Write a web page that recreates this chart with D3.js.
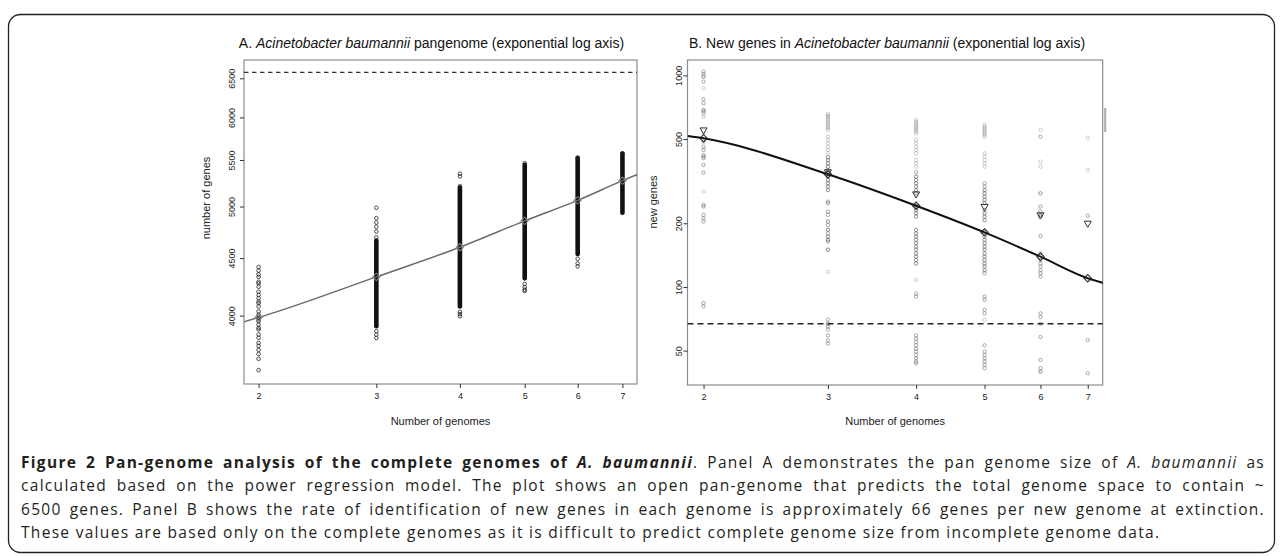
<!DOCTYPE html>
<html>
<head>
<meta charset="utf-8">
<script src="https://cdn.jsdelivr.net/npm/d3@7"></script>
<style>
body { margin: 0; background: #fff; }
svg { display: block; font-family: Arial, "Liberation Sans", Helvetica, sans-serif; }
.cap { font-family: "Open Sans", sans-serif; font-size: 15.5px; letter-spacing: 1.3px; fill: #231f20; }
</style>
</head>
<body>
<script>
// number of genomes sampled (x axis of both panels)
var genomes = [2, 3, 4, 5, 6, 7];

// Panel A: pan-genome size
var panTicks = [4000, 4500, 5000, 5500, 6000, 6500];
var panAsymptote = 6580;
var panFitN = [1.9, 2, 3, 4, 5, 6, 7, 7.4];
var panFitSize = [3950, 3985, 4330, 4601, 4856, 5064, 5272, 5345];
// runs of heavily overlapping points: [genomes, low, high]
var panRuns = [[3, 3914, 4664], [4, 4076, 5197], [5, 4317, 5447], [6, 4538, 5519], [7, 4938, 5574]];
// isolated points: [genomes, size]
var panSingles = [
  [2, 4419], [2, 4386], [2, 4352], [2, 4330], [2, 4287], [2, 4273], [2, 4244], [2, 4201],
  [2, 4173], [2, 4146], [2, 4117], [2, 4103], [2, 4076], [2, 4035], [2, 4008], [2, 3994],
  [2, 3981], [2, 3968], [2, 3954], [2, 3927], [2, 3901], [2, 3888], [2, 3848], [2, 3823],
  [2, 3783], [2, 3760], [2, 3730], [2, 3698], [2, 3662], [2, 3578],
  [3, 4988], [3, 4883], [3, 4839], [3, 4798], [3, 4752], [3, 4695], [3, 3875], [3, 3848], [3, 3821],
  [4, 5348], [4, 5318], [4, 5212], [4, 4030], [4, 4012], [4, 3995],
  [5, 5463], [5, 4268], [5, 4240], [5, 4218], [5, 4207],
  [6, 5529], [6, 4494], [6, 4451], [6, 4424],
  [7, 5574]
];

// Panel B: new genes per added genome
var newTicks = [50, 100, 200, 500, 1000];
var newExtinction = 67;
var newFitN = [1.9, 2, 3, 4, 5, 6, 7, 7.4];
var newFitGenes = [517, 504, 341, 242, 181, 139, 110, 104];
var newMeans = [552, 350, 275, 240, 219, 200];
// [genomes, new genes, number of overlapping points]
var newPoints = [
  [2, 1041, 2], [2, 1012, 2], [2, 985, 3], [2, 933, 2], [2, 869, 1], [2, 771, 2], [2, 738, 2],
  [2, 686, 3], [2, 674, 2], [2, 657, 1], [2, 638, 1], [2, 530, 1], [2, 486, 2], [2, 460, 2],
  [2, 444, 2], [2, 420, 2], [2, 413, 2], [2, 406, 2], [2, 377, 2], [2, 347, 2], [2, 282, 1],
  [2, 244, 2], [2, 240, 2], [2, 219, 2], [2, 211, 2], [2, 204, 2], [2, 84, 2], [2, 81, 2],
  [3, 657, 1], [3, 645, 1], [3, 638, 1], [3, 627, 1], [3, 616, 1], [3, 604, 1], [3, 593, 1],
  [3, 582, 1], [3, 572, 1], [3, 562, 1], [3, 552, 1], [3, 513, 1], [3, 495, 1], [3, 478, 1],
  [3, 460, 1], [3, 444, 1], [3, 428, 1], [3, 410, 3], [3, 398, 3], [3, 384, 3], [3, 370, 3],
  [3, 357, 3], [3, 341, 4], [3, 332, 3], [3, 320, 3], [3, 309, 3], [3, 298, 3], [3, 287, 3],
  [3, 253, 2], [3, 249, 2], [3, 227, 2], [3, 219, 2], [3, 204, 3], [3, 196, 2], [3, 186, 3],
  [3, 179, 2], [3, 173, 3], [3, 167, 3], [3, 164, 2], [3, 150, 4], [3, 118, 1], [3, 70, 2],
  [3, 67, 3], [3, 65, 2], [3, 63, 2], [3, 59, 2], [3, 56, 2], [3, 54, 2],
  [4, 616, 1], [4, 604, 1], [4, 593, 1], [4, 582, 1], [4, 572, 1], [4, 562, 1], [4, 552, 1],
  [4, 542, 1], [4, 532, 1], [4, 495, 1], [4, 478, 1], [4, 460, 1], [4, 444, 1], [4, 428, 1],
  [4, 398, 1], [4, 384, 1], [4, 370, 1], [4, 348, 2], [4, 332, 3], [4, 320, 3], [4, 309, 3],
  [4, 298, 3], [4, 287, 3], [4, 277, 3], [4, 242, 4], [4, 231, 3], [4, 223, 3], [4, 215, 3],
  [4, 186, 3], [4, 179, 3], [4, 173, 3], [4, 167, 3], [4, 161, 3], [4, 155, 3], [4, 150, 3],
  [4, 144, 3], [4, 139, 3], [4, 134, 3], [4, 129, 3], [4, 108, 1], [4, 93, 2], [4, 90, 2],
  [4, 59, 2], [4, 57, 2], [4, 55, 2], [4, 53, 2], [4, 51, 2], [4, 49.5, 2], [4, 47.7, 2],
  [4, 46, 2], [4, 44.4, 2], [4, 43.6, 2],
  [5, 583, 1], [5, 572, 1], [5, 562, 1], [5, 552, 1], [5, 542, 1], [5, 532, 1], [5, 523, 1],
  [5, 513, 1], [5, 428, 1], [5, 413, 1], [5, 398, 1], [5, 384, 1], [5, 370, 1], [5, 309, 2],
  [5, 298, 2], [5, 287, 3], [5, 277, 3], [5, 267, 3], [5, 258, 3], [5, 249, 3], [5, 231, 3],
  [5, 223, 3], [5, 215, 3], [5, 207, 3], [5, 181, 3], [5, 173, 3], [5, 167, 3], [5, 161, 3],
  [5, 155, 3], [5, 150, 3], [5, 144, 3], [5, 139, 3], [5, 134, 3], [5, 129, 3], [5, 125, 3],
  [5, 120, 3], [5, 116, 2], [5, 90, 2], [5, 87, 2], [5, 78, 2], [5, 75, 2], [5, 70, 1],
  [5, 53, 2], [5, 49.5, 2], [5, 47.7, 2], [5, 46, 2], [5, 44.4, 2], [5, 42.8, 2], [5, 41.3, 2],
  [6, 552, 1], [6, 513, 2], [6, 391, 1], [6, 370, 1], [6, 277, 3], [6, 240, 2], [6, 227, 2],
  [6, 219, 4], [6, 215, 3], [6, 174, 2], [6, 144, 2], [6, 134, 2], [6, 129, 2], [6, 125, 2],
  [6, 120, 2], [6, 116, 2], [6, 112, 2], [6, 75, 2], [6, 72, 2], [6, 67, 2], [6, 58, 2],
  [6, 45.2, 2], [6, 41.3, 2], [6, 39.8, 3],
  [7, 508, 1], [7, 357, 1], [7, 217, 2], [7, 56, 2], [7, 39.1, 2]
];

// caption lines: [text, style] where b = bold, i = italic
var captionLines = [
  [["Figure 2 Pan-genome analysis of the complete genomes of ", "b"], ["A. baumannii", "bi"],
   [". Panel A demonstrates the pan genome size of ", ""], ["A. baumannii", "i"], [" as", ""]],
  [["calculated based on the power regression model. The plot shows an open pan-genome that predicts the total genome space to contain ~", ""]],
  [["6500 genes. Panel B shows the rate of identification of new genes in each genome is approximately 66 genes per new genome at extinction.", ""]],
  [["These values are based only on the complete genomes as it is difficult to predict complete genome size from incomplete genome data.", ""]]
];

var W = 1282, H = 556;
var svg = d3.select("body").append("svg").attr("width", W).attr("height", H);

// outer frame
svg.append("rect")
  .attr("x", 8.5).attr("y", 14.5)
  .attr("width", 1266).attr("height", 538)
  .attr("rx", 12)
  .attr("fill", "none").attr("stroke", "#222").attr("stroke-width", 1.3);

// scales
var ax = d3.scaleLog().domain([1.902, 7.36]).range([244, 637]);
var ay = d3.scaleLog().domain([3478, 6748]).range([384, 60]);
var bx = d3.scaleLog().domain([1.898, 7.35]).range([687.5, 1102.7]);
var by = d3.scaleLog().domain([34.4, 1182]).range([385, 60]);

function clipFor(id, x, y) {
  svg.append("clipPath").attr("id", id).append("rect")
    .attr("x", x.range()[0]).attr("y", y.range()[1])
    .attr("width", x.range()[1] - x.range()[0])
    .attr("height", y.range()[0] - y.range()[1]);
}
clipFor("clipA", ax, ay);
clipFor("clipB", bx, by);

function frame(x, y, yTicks, labelShift, title, titleX, ylab, ylabX, ylabY) {
  var left = x.range()[0], right = x.range()[1];
  var top = y.range()[1], bottom = y.range()[0];

  svg.append("rect")
    .attr("x", left).attr("y", top)
    .attr("width", right - left).attr("height", bottom - top)
    .attr("fill", "none").attr("stroke", "#8c8c8c").attr("stroke-width", 1.2);

  var xa = svg.append("g")
    .attr("transform", "translate(0," + bottom + ")")
    .call(d3.axisBottom(x).tickValues(genomes).tickFormat(d3.format("d")).tickSize(4));
  xa.select(".domain").remove();
  xa.selectAll("line").attr("stroke", "#333");
  xa.selectAll("text").attr("font-size", 9).attr("fill", "#222").attr("y", 14.5).attr("dy", 0);

  var ya = svg.append("g")
    .attr("transform", "translate(" + left + ",0)")
    .call(d3.axisLeft(y).tickValues(yTicks).tickFormat(d3.format("d")).tickSize(4));
  ya.select(".domain").remove();
  ya.selectAll("line").attr("stroke", "#333");
  ya.selectAll("text")
    .attr("x", 0).attr("dy", 0)
    .attr("font-size", 9).attr("fill", "#222")
    .attr("text-anchor", "middle")
    .attr("transform", "translate(" + (-labelShift) + ",0) rotate(-90)");

  svg.append("text")
    .attr("x", titleX).attr("y", 48)
    .attr("text-anchor", "middle")
    .attr("font-size", 14).attr("fill", "#111")
    .call(function(t) {
      title.forEach(function(s) {
        t.append("tspan").text(s[0]).attr("font-style", s[1] ? "italic" : null);
      });
    });

  svg.append("text")
    .attr("x", (left + right) / 2).attr("y", 425)
    .attr("text-anchor", "middle")
    .attr("font-size", 11).attr("fill", "#222")
    .text("Number of genomes");

  svg.append("text")
    .attr("transform", "translate(" + ylabX + "," + ylabY + ") rotate(-90)")
    .attr("text-anchor", "middle")
    .attr("font-size", 11).attr("fill", "#222")
    .text(ylab);
}

frame(ax, ay, panTicks, 9,
  [["A. ", false], ["Acinetobacter baumannii", true], [" pangenome (exponential log axis)", false]],
  431.5, "number of genes", 209.5, 198);
frame(bx, by, newTicks, 5.5,
  [["B. New genes in ", false], ["Acinetobacter baumannii", true], [" (exponential log axis)", false]],
  887, "new genes", 656.5, 202);

// R style open diamond (square turned 45 degrees)
var diamond = d3.symbol().type(d3.symbolSquare).size(28);

// ---- Panel A marks
var gA = svg.append("g").attr("clip-path", "url(#clipA)");

gA.append("line")
  .attr("x1", ax.range()[0]).attr("x2", ax.range()[1])
  .attr("y1", ay(panAsymptote)).attr("y2", ay(panAsymptote))
  .attr("stroke", "#333").attr("stroke-width", 1.2)
  .attr("stroke-dasharray", "4.5,3.5");

gA.selectAll(".run")
  .data(panRuns)
  .enter().append("line")
  .attr("class", "run")
  .attr("x1", function(d) { return ax(d[0]); })
  .attr("x2", function(d) { return ax(d[0]); })
  .attr("y1", function(d) { return ay(d[1]); })
  .attr("y2", function(d) { return ay(d[2]); })
  .attr("stroke", "#111").attr("stroke-width", 4.6)
  .attr("stroke-linecap", "round");

gA.selectAll(".pt")
  .data(panSingles)
  .enter().append("circle")
  .attr("class", "pt")
  .attr("cx", function(d) { return ax(d[0]); })
  .attr("cy", function(d) { return ay(d[1]); })
  .attr("r", 1.8)
  .attr("fill", "none").attr("stroke", "#222").attr("stroke-width", 0.8);

var panLine = d3.line()
  .x(function(d, i) { return ax(panFitN[i]); })
  .y(function(d) { return ay(d); })
  .curve(d3.curveMonotoneX);

gA.append("path")
  .attr("d", panLine(panFitSize))
  .attr("fill", "none").attr("stroke", "#6a6a6a").attr("stroke-width", 1.5);

gA.selectAll(".fitA")
  .data(genomes)
  .enter().append("path")
  .attr("class", "fitA")
  .attr("transform", function(d) { return "translate(" + ax(d) + "," + ay(panFitSize[panFitN.indexOf(d)]) + ") rotate(45)"; })
  .attr("d", diamond)
  .attr("fill", "none").attr("stroke", "#888").attr("stroke-width", 1);

// ---- Panel B marks
var gB = svg.append("g").attr("clip-path", "url(#clipB)");

gB.selectAll(".np")
  .data(newPoints)
  .enter().append("circle")
  .attr("class", "np")
  .attr("cx", function(d) { return bx(d[0]); })
  .attr("cy", function(d) { return by(d[1]); })
  .attr("r", 1.7)
  .attr("fill", "none")
  .attr("stroke", "#444")
  .attr("stroke-width", 0.9)
  .attr("stroke-opacity", function(d) { return 1 - Math.pow(0.72, d[2]); });

gB.append("line")
  .attr("x1", bx.range()[0]).attr("x2", bx.range()[1])
  .attr("y1", by(newExtinction)).attr("y2", by(newExtinction))
  .attr("stroke", "#222").attr("stroke-width", 1.4)
  .attr("stroke-dasharray", "6,4");

var newLine = d3.line()
  .x(function(d, i) { return bx(newFitN[i]); })
  .y(function(d) { return by(d); })
  .curve(d3.curveMonotoneX);

gB.append("path")
  .attr("d", newLine(newFitGenes))
  .attr("fill", "none").attr("stroke", "#111").attr("stroke-width", 2);

gB.selectAll(".fitB")
  .data(genomes)
  .enter().append("path")
  .attr("class", "fitB")
  .attr("transform", function(d) { return "translate(" + bx(d) + "," + by(newFitGenes[newFitN.indexOf(d)]) + ") rotate(45)"; })
  .attr("d", diamond)
  .attr("fill", "none").attr("stroke", "#222").attr("stroke-width", 1);

var tri = d3.symbol().type(d3.symbolTriangle).size(22);
gB.selectAll(".mean")
  .data(newMeans)
  .enter().append("path")
  .attr("class", "mean")
  .attr("transform", function(d, i) { return "translate(" + bx(genomes[i]) + "," + by(d) + ") rotate(180)"; })
  .attr("d", tri)
  .attr("fill", "none").attr("stroke", "#333").attr("stroke-width", 1);

// small grey tab at the right edge of panel B
svg.append("rect")
  .attr("x", bx.range()[1] + 1.5).attr("y", 108)
  .attr("width", 2).attr("height", 24)
  .attr("fill", "#aaa");

// ---- caption
var capLeft = 21, capRight = 1265, capTop = 468, capStep = 23.4;
captionLines.forEach(function(segs, i) {
  var t = svg.append("text")
    .attr("class", "cap")
    .attr("x", capLeft)
    .attr("y", capTop + i * capStep);
  segs.forEach(function(s) {
    t.append("tspan").text(s[0])
      .attr("font-weight", s[1].indexOf("b") >= 0 ? "bold" : null)
      .attr("font-style", s[1].indexOf("i") >= 0 ? "italic" : null);
  });
  if (i < captionLines.length - 1) {
    var full = segs.map(function(s) { return s[0]; }).join("");
    var gaps = full.split(" ").length - 1;
    var w = t.node().getComputedTextLength();
    t.attr("word-spacing", (capRight - capLeft - w) / gaps);
  }
});
</script>
</body>
</html>
